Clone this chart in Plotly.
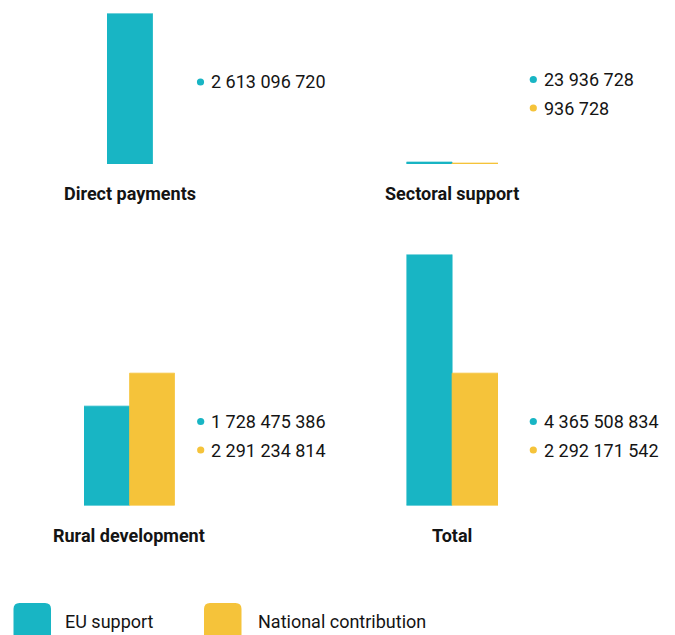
import plotly.graph_objects as go

# ---------------- data ----------------
categories = ["Direct payments", "Sectoral support", "Rural development", "Total"]
series_names = ["EU support", "National contribution"]
eu_support = [2613096720, 23936728, 1728475386, 4365508834]
national_contribution = [None, 936728, 2291234814, 2292171542]

# ---------------- style ----------------
TEAL = "#18B5C4"
YELLOW = "#F5C33A"
TEXT = "#141414"
FONT = "Roboto"
W, H = 675, 635
S = 57.6 / 1e9  # pixels per unit (shared scale)

def px(x):
    return x / W

def py(y):
    return 1 - y / H

# panel boxes in pixels: (x0, x1, baseline y)
panels = [(107, 153, 164), (406.5, 498, 164), (84, 175, 506), (406.5, 498, 506)]
rows = [[0, 1], [2, 3]]
# value label anchor (dot centre x, text start x)
label_x = [(200.5, 211), (533.3, 544), (200.7, 211), (533.3, 544)]

fig = go.Figure()
layout = dict(
    width=W, height=H, margin=dict(l=0, r=0, t=0, b=0),
    paper_bgcolor="white", plot_bgcolor="white",
    showlegend=False, barmode="overlay", bargap=0,
    font=dict(family=FONT, color=TEXT),
)
shapes = []
annotations = []

def vals(i):
    return [v for v in (eu_support[i], national_contribution[i]) if v is not None]

for r in rows:
    row_max = max(max(vals(i)) for i in r)
    for i in r:
        x0, x1, yb = panels[i]
        ytop = yb - S * row_max
        ax = "" if i == 0 else str(i + 1)
        has_nat = national_contribution[i] is not None
        cats = series_names if has_nat else series_names[:1]
        layout["xaxis" + ax] = dict(domain=[px(x0), px(x1)], visible=False,
                                    type="category", categoryarray=cats,
                                    range=[-0.5, len(cats) - 0.5], fixedrange=True)
        layout["yaxis" + ax] = dict(domain=[py(yb), py(ytop)], visible=False,
                                    range=[0, row_max], fixedrange=True)
        fig.add_trace(go.Bar(x=[series_names[0]], y=[eu_support[i]], width=1,
                             marker=dict(color=TEAL, line=dict(color=TEAL, width=0.8)),
                             xaxis="x" + ax, yaxis="y" + ax, hoverinfo="skip"))
        if has_nat:
            fig.add_trace(go.Bar(x=[series_names[1]], y=[national_contribution[i]], width=1,
                                 marker=dict(color=YELLOW, line=dict(color=YELLOW, width=0.8)),
                                 xaxis="x" + ax, yaxis="y" + ax, hoverinfo="skip"))
        # category label
        annotations.append(dict(x=px((x0 + x1) / 2 - 0.5), y=py(yb + 29), xref="paper", yref="paper",
                                text="<b>" + categories[i] + "</b>", showarrow=False,
                                xanchor="center", yanchor="middle",
                                font=dict(family=FONT, size=18, color=TEXT)))
        # value labels
        dx, tx = label_x[i]
        items = [(eu_support[i], TEAL)]
        if has_nat:
            items.append((national_contribution[i], YELLOW))
        ys = [yb - 82] if len(items) == 1 else [yb - 84.5, yb - 56]
        for (v, c), yy in zip(items, ys):
            rr = 3.6
            shapes.append(dict(type="circle", xref="paper", yref="paper",
                               x0=px(dx - rr), x1=px(dx + rr), y0=py(yy + rr), y1=py(yy - rr),
                               fillcolor=c, line=dict(width=0)))
            annotations.append(dict(x=px(tx - 2), y=py(yy), xref="paper", yref="paper",
                                    text=f"{v:,}".replace(",", " "), showarrow=False,
                                    xanchor="left", yanchor="middle",
                                    font=dict(family=FONT, size=18, color=TEXT)))

# ---------------- custom legend ----------------
def rounded_rect(x0, y0, x1, y1, rad):
    pts = [
        f"M {px(x0 + rad)} {py(y0)}",
        f"L {px(x1 - rad)} {py(y0)}",
        f"Q {px(x1)} {py(y0)} {px(x1)} {py(y0 + rad)}",
        f"L {px(x1)} {py(y1 - rad)}",
        f"Q {px(x1)} {py(y1)} {px(x1 - rad)} {py(y1)}",
        f"L {px(x0 + rad)} {py(y1)}",
        f"Q {px(x0)} {py(y1)} {px(x0)} {py(y1 - rad)}",
        f"L {px(x0)} {py(y0 + rad)}",
        f"Q {px(x0)} {py(y0)} {px(x0 + rad)} {py(y0)}",
        "Z",
    ]
    return " ".join(pts)

legend_items = [(series_names[0], TEAL, 13.5, 65), (series_names[1], YELLOW, 204, 258)]
for name, c, sx, tx in legend_items:
    shapes.append(dict(type="path", xref="paper", yref="paper",
                       path=rounded_rect(sx, 603, sx + 37.5, 640, 6),
                       fillcolor=c, line=dict(width=0)))
    annotations.append(dict(x=px(tx - 2.5), y=py(621), xref="paper", yref="paper",
                            text=name, showarrow=False, xanchor="left", yanchor="middle",
                            font=dict(family=FONT, size=18, color=TEXT)))

layout["shapes"] = shapes
layout["annotations"] = annotations
fig.update_layout(**layout)
fig.write_html("out.html")
